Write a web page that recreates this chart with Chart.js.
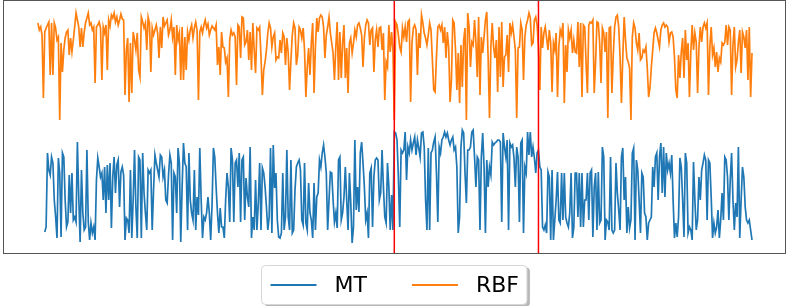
<!DOCTYPE html>
<html>
<head>
<meta charset="utf-8">
<script src="https://cdn.jsdelivr.net/npm/chart.js@4.4.1/dist/chart.umd.min.js"></script>
<style>
  html, body { margin: 0; padding: 0; background: #fff; }
  #wrap { width: 788px; height: 306px; }
</style>
</head>
<body>
<div id="wrap"><canvas id="myChart" width="788" height="306"></canvas></div>
<script>
// series labels and colours
const seriesLabels = ['MT', 'RBF'];

// MT values (blue); the series starts a few steps late
const mtValues = [
    null, null, null, null, null,
    18, 23, 97, 80, 75, 93, 87, 50, 33, 12, 92, 77, 13, 97, 93, 50, 23, 28, 75, 37, 77, 30, 33, 28, 108, 53, 8, 80, 37, 20,
    23, 100, 28, 10, 27, 17, 23, 10, 70, 92, 83, 73, 77, 50, 83, 37, 85, 50, 87, 22, 73, 93, 57, 85, 90, 43, 78, 83,
    75, 10, 32, 30, 17, 80, 12, 50, 100, 43, 12, 93, 90, 12, 97, 57, 37, 20, 80, 77, 80, 20, 60, 95, 87, 80, 73, 95, 93, 73,
    80, 50, 47, 75, 95, 87, 10, 77, 73, 37, 102, 87, 8, 63, 107, 87, 83, 20, 97, 50, 37, 30, 80, 20, 53, 35, 102, 50, 12, 33,
    30, 37, 53, 37, 10, 45,
    102, 93, 63, 37, 17, 42, 23, 23, 12, 50, 77, 63, 28, 102, 90, 28, 87, 90, 63, 97, 28, 90, 93, 30, 72, 53, 43, 103, 12, 33,
    20, 70, 20, 47, 87, 20, 82, 77, 63, 43, 20, 33, 102, 17, 105, 62, 77, 30, 13, 12, 17, 77, 20, 33, 100, 33, 20, 90, 17, 20,
    60, 83, 87, 90, 80, 30,
    25, 87, 27, 20, 67, 37, 30, 12, 67, 20, 53, 57, 90, 83, 97, 105, 93, 77, 20, 50, 78, 77, 50, 28, 37, 22, 90, 93, 30, 37,
    53, 83, 50, 20, 77, 47, 7, 23, 110, 40, 63, 38, 97, 108, 87, 63, 30, 37, 12, 77, 82, 23, 73, 90, 92, 90, 50, 57, 100, 63,
    33, 27, 87, 63, 20, 55,
    20, 118, 117, 110, 73, 23, 100, 97, 100, 118, 70, 103, 97, 110, 100, 107, 113, 95, 110, 102, 93, 117, 118, 103, 50, 20, 102, 20, 97, 100,
    108, 113, 77, 28, 103, 97, 110, 113, 118, 113, 117, 110, 105, 110, 113, 100, 103, 83, 17, 33, 103, 120, 117, 77, 47, 100, 100, 103, 118, 120,
    93, 63, 93, 90, 20, 93, 117,
    83, 17, 90, 63, 83, 75, 108, 105, 107, 108, 110, 110, 108, 28, 117, 103, 93, 110, 20, 107, 103, 105, 92, 63, 103, 93, 28, 107, 110, 17,
    83, 77, 118, 95, 118, 93, 103, 92, 77, 97, 100, 83, 80, 23, 20, 25, 17, 78, 73, 10, 80, 10, 30, 50, 78, 30, 27, 77, 30, 77,
    33, 27, 23, 37, 77, 12, 23, 77,
    77, 33, 77, 23, 77, 23, 50, 50, 77, 30, 77, 80, 13, 63, 77, 20, 78, 27, 30, 103, 93, 10, 30, 28, 20, 93, 20, 17, 20, 87,
    57, 40, 20, 93, 102, 50, 73, 17, 43, 22, 30, 97, 102, 10, 90, 80, 50, 17, 77, 73, 37, 33, 10, 27, 30, 33, 83, 63, 93, 97,
    50, 93, 107, 57, 103, 53,
    97, 80, 87, 77, 95, 50, 12, 27, 13, 33, 92, 83, 50, 13, 97, 87, 17, 23, 20, 10, 88, 50, 20, 30, 73, 50, 80, 87, 95, 90,
    30, 90, 87, 53, 12, 27, 17, 23, 40, 12, 30, 57, 30, 93, 90, 73, 30, 70, 97, 50, 20, 47, 33, 103, 12, 50, 83, 73, 43, 30,
    27, 30, 20, 10
];

// RBF values (orange)
const rbfValues = [
    227, 220, 223, 215, 152, 218, 222, 225, 228, 175, 227, 175, 227, 222, 210, 213, 130, 207, 178, 200, 212, 218, 220, 195, 212, 198, 210, 223, 237, 230,
    223, 203, 222, 203, 218, 227, 232, 237, 225, 227, 220, 223, 167, 223, 225, 228, 222, 170, 223, 217, 225, 180, 230, 224, 235, 232, 237, 228, 233, 225,
    230, 236, 231,
    230, 155, 200, 212, 148, 207, 157, 218, 210, 200, 217, 180, 173, 233, 228, 222, 227, 200, 233, 227, 178, 222, 215, 220, 225, 217, 192, 223, 202, 233,
    224, 227, 230, 215, 220, 230, 213, 223, 175, 225, 210, 217, 170, 223, 170, 213, 180, 218, 210, 220, 225, 212, 222, 228, 220, 150, 218, 223, 217, 225,
    230, 222, 226, 215, 220, 224,
    222, 220, 225, 185, 203, 175, 218, 203, 202, 188, 192, 153, 210, 220, 215, 217, 213, 165, 225, 223, 192, 233, 232, 205, 208, 220, 190, 218, 180, 227,
    200, 177, 222, 220, 223, 193, 155, 180, 188, 200, 217, 227, 222, 203, 213, 217, 190, 193, 192, 210, 197, 217, 213, 185, 212, 197, 160, 190, 215, 227,
    222, 185, 195, 223, 220, 212,
    222, 200, 153, 183, 202, 175, 207, 227, 157, 203, 232, 218, 232, 235, 233, 223, 192, 215, 223, 233, 217, 207, 197, 170, 203, 228, 170, 218, 172, 207,
    225, 172, 202, 157, 207, 212, 197, 207, 220, 213, 225, 227, 222, 215, 183, 212, 225, 230, 227, 205, 220, 222, 178, 210, 220, 203, 222, 223, 200, 217,
    150, 188, 183, 225, 198, 218,
    200, 130, 228, 225, 215, 203, 198, 222, 213, 223, 208, 228, 230, 148, 207, 222, 225, 220, 175, 217, 202, 235, 227, 217, 212, 205, 215, 227, 220, 190,
    160, 158, 193, 223, 225, 220, 225, 207, 223, 192, 218, 202, 148, 170, 230, 227, 200, 160, 197, 147, 205, 163, 210, 222, 130, 237, 223, 183, 208, 205,
    230, 208, 173, 233, 155, 213, 197,
    213, 230, 238, 192, 132, 203, 227, 203, 192, 210, 158, 223, 173, 228, 163, 193, 195, 215, 178, 227, 217, 225, 213, 200, 132, 202, 203, 227, 220, 170,
    213, 225, 230, 237, 232, 205, 207, 230, 233, 225, 202, 160, 223, 202, 217, 223, 212, 200, 220, 207, 158, 207, 200, 217, 153, 203, 220, 215, 227, 147,
    205, 178, 220, 212, 220, 197, 210, 198,
    197, 228, 183, 227, 153, 225, 223, 187, 157, 225, 228, 227, 230, 157, 188, 228, 227, 207, 167, 222, 217, 198, 218, 132, 222, 223, 157, 195, 223, 233,
    235, 223, 193, 147, 193, 233, 210, 192, 188, 182, 130, 213, 227, 222, 207, 200, 217, 190, 192, 200, 198, 203, 182, 153, 162, 183, 200, 217, 222, 217,
    210, 203, 220, 225, 227, 223,
    225, 223, 208, 217, 218, 213, 193, 160, 152, 195, 172, 198, 212, 172, 220, 190, 207, 153, 197, 225, 200, 217, 208, 157, 203, 223, 208, 223, 227, 222,
    227, 155, 203, 223, 195, 202, 183, 198, 178, 192, 188, 207, 205, 208, 225, 205, 223, 220, 155, 205, 223, 183, 190, 208, 220, 177, 218, 213, 202, 220,
    170, 223, 153, 197
];

// steps where the red vertical markers sit
const markerSteps = [262, 368];

const Y_MIN = -4, Y_MAX = 250;

const toPoints = arr => arr.map((v, i) => ({ x: i, y: v }));

const markerSets = markerSteps.map(s => ({
    data: [{ x: s, y: Y_MIN }, { x: s, y: Y_MAX }],
    borderColor: '#ff0000',
    borderWidth: 1.5,
    pointRadius: 0,
    order: 0
}));

// frame around the plot area
const frame = {
    id: 'frame',
    afterDraw(chart) {
        const { ctx, chartArea: a } = chart;
        ctx.save();
        ctx.strokeStyle = '#555';
        ctx.lineWidth = 1;
        ctx.strokeRect(a.left + 0.5, a.top + 0.5, a.right - a.left - 1, a.bottom - a.top - 1);
        ctx.restore();
    }
};

// boxed legend below the plot, like the matplotlib one
const boxLegend = {
    id: 'boxLegend',
    afterDraw(chart) {
        const ctx = chart.ctx;
        const items = chart.data.datasets.filter(d => d.label);
        ctx.save();
        ctx.font = '22px "DejaVu Sans"';
        const lineLen = 46, gapText = 18, gapItem = 45, padL = 9, padR = 8;
        const widths = items.map(d => ctx.measureText(d.label).width);
        let total = padL + padR;
        items.forEach((d, i) => { total += lineLen + gapText + widths[i] + (i ? gapItem : 0); });
        const x0 = Math.round((chart.width - total) / 2) + 0.5;
        const y0 = 265.5, h = 39, r = 4;
        const rr = (x, y, w, hh) => {
            ctx.beginPath();
            ctx.moveTo(x + r, y);
            ctx.arcTo(x + w, y, x + w, y + hh, r);
            ctx.arcTo(x + w, y + hh, x, y + hh, r);
            ctx.arcTo(x, y + hh, x, y, r);
            ctx.arcTo(x, y, x + w, y, r);
            ctx.closePath();
        };
        rr(x0 + 3, y0 + 2, total, h);
        ctx.fillStyle = 'rgba(0,0,0,0.28)';
        ctx.fill();
        rr(x0, y0, total, h);
        ctx.fillStyle = '#fff';
        ctx.fill();
        ctx.strokeStyle = '#d6d6d6';
        ctx.lineWidth = 1;
        ctx.stroke();

        const cy = y0 + h / 2;
        let x = x0 + padL;
        ctx.textBaseline = 'middle';
        items.forEach((d, i) => {
            ctx.strokeStyle = d.borderColor;
            ctx.lineWidth = 2;
            ctx.beginPath();
            ctx.moveTo(x, cy);
            ctx.lineTo(x + lineLen, cy);
            ctx.stroke();
            x += lineLen + gapText;
            ctx.fillStyle = '#000';
            ctx.fillText(d.label, x, cy + 1);
            x += widths[i] + gapItem;
        });
        ctx.restore();
    }
};

const config = {
    type: 'line',
    data: {
        datasets: [
            {
                label: seriesLabels[0],
                data: toPoints(mtValues),
                borderColor: '#1f77b4',
                borderWidth: 1.7,
                pointRadius: 0,
                spanGaps: false,
                order: 2
            },
            {
                label: seriesLabels[1],
                data: toPoints(rbfValues),
                borderColor: '#ff7f0e',
                borderWidth: 1.7,
                pointRadius: 0,
                order: 1
            },
            ...markerSets
        ]
    },
    options: {
        responsive: false,
        animation: false,
        layout: { padding: { left: 3, right: 2, top: 0, bottom: 52 } },
        plugins: {
            legend: { display: false },
            tooltip: { enabled: false }
        },
        scales: {
            x: { type: 'linear', min: -25.7, max: 550.0, display: false },
            y: { min: Y_MIN, max: Y_MAX, display: false }
        }
    },
    plugins: [frame, boxLegend]
};

const ctx = document.getElementById('myChart').getContext('2d');
const myChart = new Chart(ctx, config);
</script>
</body>
</html>
